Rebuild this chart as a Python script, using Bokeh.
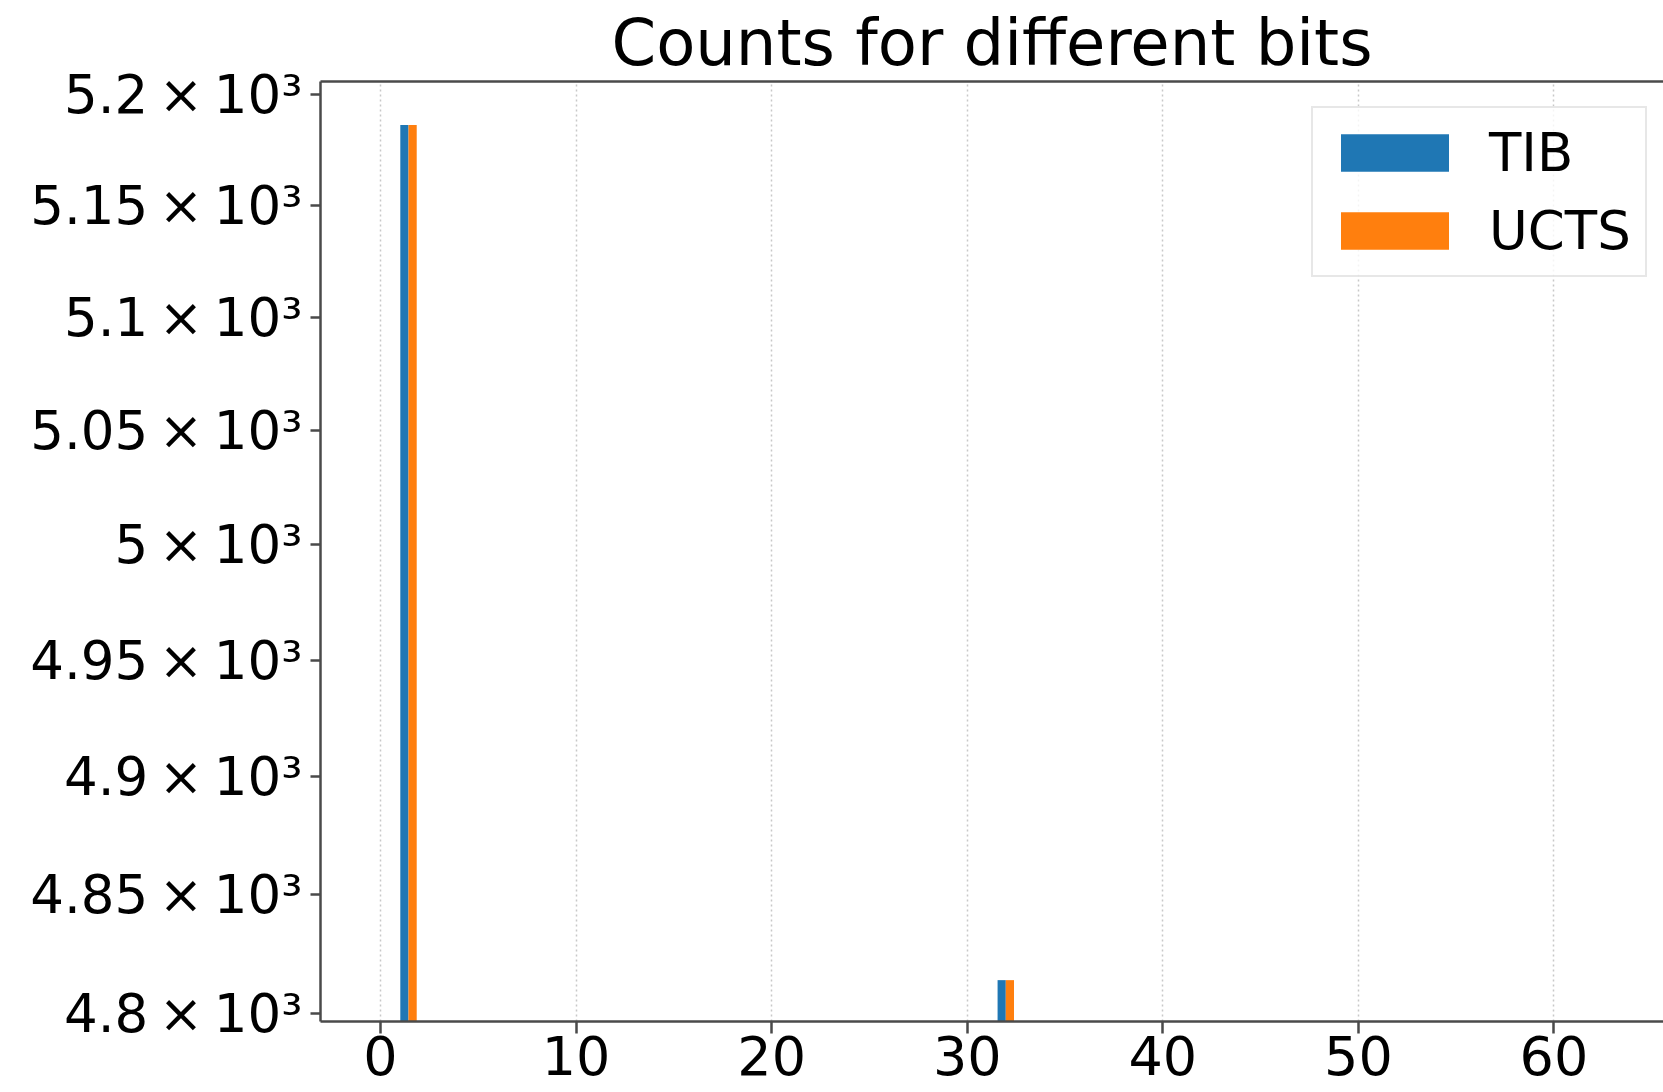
from bokeh.plotting import figure
from bokeh.models import (Range1d, FixedTicker, LinearAxis, Legend, LegendItem,
                          ColumnDataSource)
from bokeh.embed import file_html
from bokeh.resources import INLINE

# ---- data ----
series = ["TIB", "UCTS"]
bin_centers = [1.43, 31.97]          # bit positions of the two non-empty bins
tib_counts = [5186, 4814]
ucts_counts = [5186, 4814]
x_ticks = [0, 10, 20, 30, 40, 50, 60]
y_ticks = [4800, 4850, 4900, 4950, 5000, 5050, 5100, 5150, 5200]
y_tick_labels = ["4.8\u2009×\u200910³", "4.85\u2009×\u200910³", "4.9\u2009×\u200910³",
                 "4.95\u2009×\u200910³", "5\u2009×\u200910³", "5.05\u2009×\u200910³",
                 "5.1\u2009×\u200910³", "5.15\u2009×\u200910³", "5.2\u2009×\u200910³"]
colors = ["#1f77b4", "#ff7f0e"]

FONT = "DejaVu Sans"
bar_w = 0.42

p = figure(width=1663, height=1092, output_backend="svg", toolbar_location=None,
           y_axis_type="log",
           x_range=Range1d(-3.07, 65.6), y_range=Range1d(4796.7, 5205.7),
           min_border_left=320, min_border_right=0, min_border_top=81,
           min_border_bottom=71)

p.title.text = "Counts for different bits"
p.title.text_font = FONT
p.title.text_font_size = "64px"
p.title.text_font_style = "normal"
p.title.align = "center"
p.title.text_color = "black"
p.title.standoff = 3
p.title.offset = 0

p.outline_line_color = None
p.background_fill_color = "white"
p.border_fill_color = "white"

src_t = ColumnDataSource(dict(x=[c - bar_w / 2 for c in bin_centers], top=tib_counts))
src_u = ColumnDataSource(dict(x=[c + bar_w / 2 for c in bin_centers], top=ucts_counts))
r_t = p.vbar(x="x", top="top", bottom=1, width=bar_w, source=src_t,
             fill_color=colors[0], line_color=None)
r_u = p.vbar(x="x", top="top", bottom=1, width=bar_w, source=src_u,
             fill_color=colors[1], line_color=None)

axis_col = "#4a4a4a"
# x axis
xa = p.xaxis[0]
xa.ticker = FixedTicker(ticks=x_ticks)
xa.major_label_text_font = FONT
xa.major_label_text_font_size = "54px"
xa.major_label_text_color = "black"
xa.major_label_standoff = 2
xa.major_tick_out = 12
xa.major_tick_in = 0
xa.minor_tick_out = 0
xa.minor_tick_in = 0
xa.axis_line_color = axis_col
xa.axis_line_width = 2.5
xa.major_tick_line_color = axis_col
xa.major_tick_line_width = 2.5

# y axis
ya = p.yaxis[0]
ya.ticker = FixedTicker(ticks=y_ticks)
ya.major_label_overrides = {t: lab for t, lab in zip(y_ticks, y_tick_labels)}
ya.major_label_text_font = FONT
ya.major_label_text_font_size = "53px"
ya.major_label_text_color = "black"
ya.major_label_standoff = 8
ya.major_tick_out = 10
ya.major_tick_in = 0
ya.minor_tick_out = 0
ya.minor_tick_in = 0
ya.axis_line_color = axis_col
ya.axis_line_width = 2.5
ya.major_tick_line_color = axis_col
ya.major_tick_line_width = 2.5

# top spine
top_ax = LinearAxis(ticker=FixedTicker(ticks=[]), major_tick_out=0, major_tick_in=0,
                    minor_tick_out=0, minor_tick_in=0, major_label_standoff=0,
                    major_label_text_font_size="0px",
                    axis_line_color=axis_col, axis_line_width=2.5)
p.add_layout(top_ax, "above")

# grids
p.ygrid.grid_line_color = None
p.xgrid.ticker = FixedTicker(ticks=x_ticks)
p.xgrid.grid_line_color = "#c8c8c8"
p.xgrid.grid_line_dash = "2 3"
p.xgrid.grid_line_width = 1.5

legend = Legend(items=[LegendItem(label=series[0], renderers=[r_t]),
                       LegendItem(label=series[1], renderers=[r_u])],
                location=(991, 744))
legend.label_text_font = FONT
legend.label_text_font_size = "53px"
legend.label_text_color = "black"
legend.glyph_width = 135
legend.glyph_height = 47
legend.label_standoff = 27
legend.spacing = 17
legend.padding = 14
legend.margin = 0
legend.border_line_color = "#d0d0d0"
legend.border_line_width = 2
legend.background_fill_color = "white"
legend.background_fill_alpha = 0.8
p.add_layout(legend, "center")

open("out.html", "w").write(file_html(p, INLINE))
